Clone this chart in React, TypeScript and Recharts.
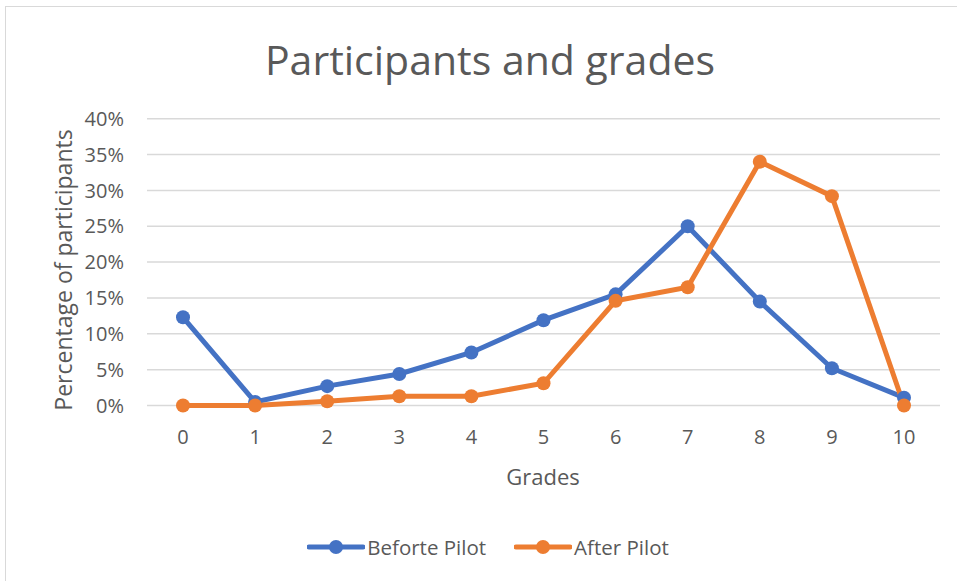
import React from "react"
import { LineChart, Line, XAxis, YAxis, CartesianGrid } from "recharts"

const grades = ["0", "1", "2", "3", "4", "5", "6", "7", "8", "9", "10"]
const beforePilot = [12.3, 0.5, 2.7, 4.4, 7.4, 11.9, 15.5, 25.0, 14.5, 5.2, 1.1]
const afterPilot = [0, 0, 0.6, 1.3, 1.3, 3.1, 14.6, 16.5, 34.0, 29.2, 0]
const yTicks = [0, 5, 10, 15, 20, 25, 30, 35, 40]
const seriesNames = ["Beforte Pilot", "After Pilot"]

const BLUE = "#4472C4"
const ORANGE = "#ED7D31"
const TEXT = "#595959"
const GRID = "#d9d9d9"
const FONT = "'Open Sans', sans-serif"

const data = grades.map((g, i) => ({
  grade: g,
  before: beforePilot[i],
  after: afterPilot[i],
}))

const legendItems = [
  { name: seriesNames[0], color: BLUE },
  { name: seriesNames[1], color: ORANGE },
]

export default function App() {
  return (
    <div style={{ position: "absolute", left: 0, top: 0, width: 957, height: 581, background: "#fff", overflow: "hidden" }}>
      {/* chart frame: only top and left edges show */}
      <div
        style={{
          position: "absolute",
          left: 5,
          top: 6,
          width: 970,
          height: 600,
          borderTop: `1.5px solid ${GRID}`,
          borderLeft: `1.5px solid ${GRID}`,
        }}
      />

      <div
        style={{
          position: "absolute",
          left: 490,
          top: 59,
          transform: "translate(-50%, -50%)",
          whiteSpace: "nowrap",
          fontFamily: FONT,
          fontSize: 41,
          color: TEXT,
        }}
      >
        Participants and grades
      </div>

      <div
        style={{
          position: "absolute",
          left: 63,
          top: 270,
          transform: "translate(-50%, -50%) rotate(-90deg)",
          whiteSpace: "nowrap",
          fontFamily: FONT,
          fontSize: 23,
          color: TEXT,
        }}
      >
        Percentage of participants
      </div>

      <div
        style={{
          position: "absolute",
          left: 543,
          top: 476,
          transform: "translate(-50%, -50%)",
          fontFamily: FONT,
          fontSize: 22,
          color: TEXT,
        }}
      >
        Grades
      </div>

      {/* Legend */}
      <div
        style={{
          position: "absolute",
          left: 0,
          width: 976,
          top: 547,
          transform: "translateY(-50%)",
          display: "flex",
          justifyContent: "center",
          gap: 28,
          fontFamily: FONT,
        }}
      >
        {legendItems.map((item) => (
          <div key={item.name} style={{ display: "flex", alignItems: "center" }}>
            <svg width={58} height={16}>
              <line x1={2} y1={8} x2={56} y2={8} stroke={item.color} strokeWidth={5} strokeLinecap="round" />
              <circle cx={29} cy={8} r={7} fill={item.color} />
            </svg>
            <span style={{ fontSize: 20.5, color: TEXT, marginLeft: 2 }}>{item.name}</span>
          </div>
        ))}
      </div>

      <div style={{ position: "absolute", left: 0, top: 0 }}>
        {/* domain starts a bit below 0 so the line along 0% isn't clipped by the plot area */}
        <LineChart
          width={957}
          height={581}
          data={data}
          margin={{ top: 118.7, right: 17, bottom: 141.9, left: 0 }}
        >
          <CartesianGrid
            horizontal
            vertical={false}
            horizontalValues={yTicks}
            stroke={GRID}
            strokeWidth={1.5}
          />
          <XAxis
            dataKey="grade"
            height={30}
            padding={{ left: 36, right: 36 }}
            axisLine={false}
            tickLine={false}
            tickSize={0}
            tickMargin={20.4}
            tick={{ fill: TEXT, fontSize: 20, fontFamily: FONT }}
          />
          <YAxis
            width={147}
            domain={[-0.5, 40]}
            ticks={yTicks}
            axisLine={false}
            tickLine={false}
            tickSize={0}
            tickMargin={23}
            tickFormatter={(v: number) => `${v}%`}
            tick={{ fill: TEXT, fontSize: 20, fontFamily: FONT }}
          />
          <Line
            dataKey="before"
            name={seriesNames[0]}
            stroke={BLUE}
            strokeWidth={5}
            dot={{ r: 7, fill: BLUE, stroke: BLUE, strokeWidth: 0 }}
            activeDot={false}
            isAnimationActive={false}
          />
          <Line
            dataKey="after"
            name={seriesNames[1]}
            stroke={ORANGE}
            strokeWidth={5}
            dot={{ r: 7, fill: ORANGE, stroke: ORANGE, strokeWidth: 0 }}
            activeDot={false}
            isAnimationActive={false}
          />
        </LineChart>
      </div>
    </div>
  )
}
